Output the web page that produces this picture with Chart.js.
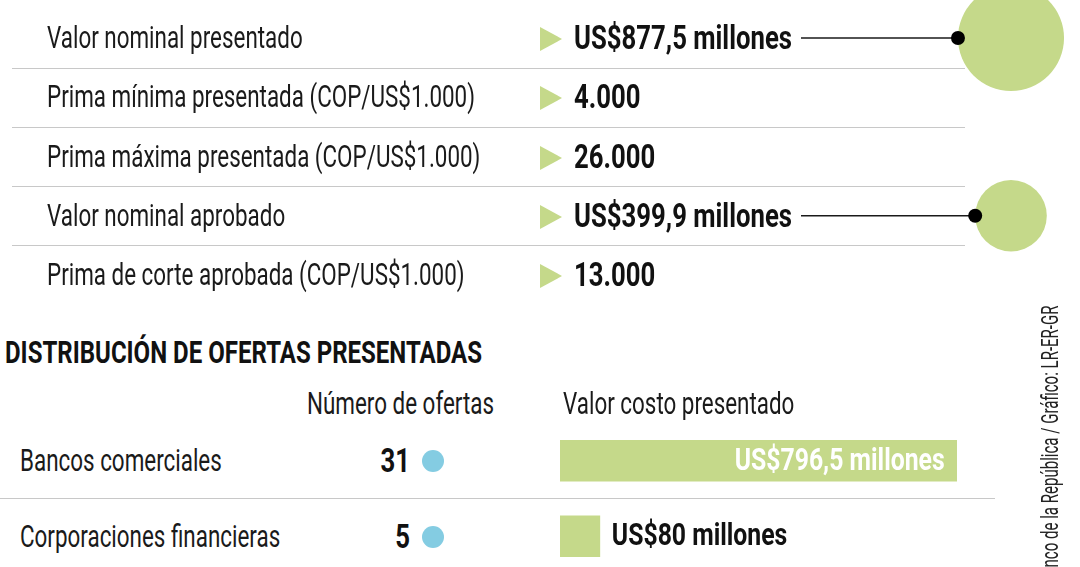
<!DOCTYPE html>
<html>
<head>
<meta charset="utf-8">
<script src="https://cdn.jsdelivr.net/npm/chart.js@4"></script>
<style>
  body { margin: 0; width: 1080px; height: 567px; overflow: hidden; background: #fff; position: relative;
         font-family: Roboto, "DejaVu Sans", sans-serif; color: #111; }
  .t { position: absolute; white-space: nowrap; line-height: 40px; transform-origin: left center; }
  .lbl { font-size: 31px; font-weight: 400; color: #1a1a1a; }
  .val { font-size: 33px; font-weight: bold; }
  .tit { font-size: 32px; font-weight: bold; }
  .tri { position: absolute; width: 0; height: 0; border-left: 22px solid #c5d98a;
         border-top: 12px solid transparent; border-bottom: 12px solid transparent; }
  .sep { position: absolute; height: 1px; background: #c8c8c8; }
  .dot { position: absolute; width: 22px; height: 22px; border-radius: 50%; background: #84cce2; }
  canvas { position: absolute; }
</style>
</head>
<body>
<canvas id="circulos" width="1080" height="304" style="left:0;top:0"></canvas>
<canvas id="barras" width="498" height="151" style="left:560px;top:423px"></canvas>
<script>
// filas de la tabla de arriba
const filas = ['Valor nominal presentado', 'Prima mínima presentada (COP/US$1.000)',
  'Prima máxima presentada (COP/US$1.000)', 'Valor nominal aprobado', 'Prima de corte aprobada (COP/US$1.000)'];
const valoresFila = [877.5, 4000, 26000, 399.9, 13000];
const esMillones = [true, false, false, true, false];

// circulos: solo las filas de valor nominal
const filasCirculo = [0, 3];

// distribucion de ofertas
const entidades = ['Bancos comerciales', 'Corporaciones financieras'];
const numOfertas = [31, 5];
const valorCosto = [796.5, 80]; // millones de US$

const verde = '#c5d98a';
const fuenteTxt = 'Fuente: Banco de la República / Gráfico: LR-ER-GR';

// formato tipo "877,5" y "26.000"
function fmt(v) {
  let partes = String(v).split('.');
  let ent = partes[0].replace(/\B(?=(\d{3})+(?!\d))/g, '.');
  return partes[1] ? ent + ',' + partes[1] : ent;
}
function texto(v, mill) {
  return mill ? 'US$' + fmt(v) + ' millones' : fmt(v);
}

// la letra original es condensada: se mide y se comprime en x
const mc = document.createElement('canvas').getContext('2d');
function ancho(font, txt) { mc.font = font; return mc.measureText(txt).width; }
const FAM = 'Roboto, "DejaVu Sans", sans-serif';
const sxLbl = 428 / ancho('400 31px ' + FAM, 'Prima mínima presentada (COP/US$1.000)');
const sxVal = 218 / ancho('bold 33px ' + FAM, 'US$877,5 millones');
const sxTit = 477 / ancho('bold 32px ' + FAM, 'DISTRIBUCIÓN DE OFERTAS PRESENTADAS');

function addDiv(cls, html, x, y, extra) {
  const d = document.createElement('div');
  d.className = cls;
  d.innerHTML = html;
  d.style.left = x + 'px';
  d.style.top = y + 'px';
  if (extra) Object.assign(d.style, extra);
  document.body.appendChild(d);
  return d;
}
function sx(d, s, origen) {
  d.style.transformOrigin = (origen || 'left') + ' center';
  d.style.transform = 'scaleX(' + s + ')';
  return d;
}

// tabla de arriba
const filaY0 = 38, filaH = 59.25;
let finTexto = [];
filas.forEach((f, i) => {
  const cy = filaY0 + filaH * i;
  sx(addDiv('t lbl', f, 47, cy - 20), sxLbl);
  addDiv('tri', '', 540, cy - 11);
  const v = sx(addDiv('t val', texto(valoresFila[i], esMillones[i]), 574, cy - 20), sxVal);
  finTexto[i] = v.getBoundingClientRect().right;
  if (i < filas.length - 1) addDiv('sep', '', 12, Math.round(cy + filaH / 2), { width: '953px' });
});

// seccion de abajo
sx(addDiv('t tit', 'DISTRIBUCIÓN DE OFERTAS PRESENTADAS', 5, 332), sxTit);
sx(addDiv('t lbl', 'Número de ofertas', 307, 384), sxLbl);
sx(addDiv('t lbl', 'Valor costo presentado', 563, 384), sxLbl);
entidades.forEach((e, i) => {
  const cy = 461 + 75.5 * i;
  sx(addDiv('t lbl', e, 20, cy - 20), sxLbl);
  sx(addDiv('t val', String(numOfertas[i]), 0, cy - 20, { width: '410px', textAlign: 'right' }), sxVal, 'right');
  addDiv('dot', '', 422, cy - 11);
});
addDiv('sep', '', 0, 498, { width: '995px' });

// fuente, girada de abajo hacia arriba
const fFont = '400 23px ' + FAM;
const fW = ancho(fFont, fuenteTxt);
const sxF = 262 / ancho(fFont, 'nco de la República / Gráfico: LR-ER-GR');
addDiv('t', fuenteTxt, 1039, 305 + fW * sxF,
  { font: fFont, lineHeight: '24px', transformOrigin: '0 0', transform: 'rotate(-90deg) scaleX(' + sxF + ')', color: '#222' });

// linea guia hasta el borde del circulo
const guias = {
  id: 'guias',
  afterDatasetsDraw(chart) {
    const ctx = chart.ctx;
    const meta = chart.getDatasetMeta(0);
    meta.data.forEach((el, i) => {
      const fila = filasCirculo[i];
      const xFin = el.x - el.options.radius;
      ctx.save();
      ctx.strokeStyle = '#1a1a1a';
      ctx.lineWidth = 1.6;
      ctx.beginPath();
      ctx.moveTo(finTexto[fila] + 9, el.y);
      ctx.lineTo(xFin, el.y);
      ctx.stroke();
      ctx.fillStyle = '#000';
      ctx.beginPath();
      ctx.arc(xFin, el.y, 7, 0, Math.PI * 2);
      ctx.fill();
      ctx.restore();
    });
  }
};

// radio proporcional al area
const k = 1.79;
new Chart(document.getElementById('circulos'), {
  type: 'bubble',
  data: {
    datasets: [{
      data: filasCirculo.map(f => ({ x: 0, y: f, r: k * Math.sqrt(valoresFila[f]) })),
      backgroundColor: verde,
      borderWidth: 0,
      clip: false
    }]
  },
  options: {
    responsive: false,
    animation: false,
    layout: { padding: 0, autoPadding: false },
    scales: {
      x: { type: 'linear', min: -1011, max: 69, display: false },
      y: { type: 'linear', min: -0.64, max: 4.49, reverse: true, display: false }
    },
    plugins: { legend: { display: false }, tooltip: { enabled: false } }
  },
  plugins: [guias]
});

// etiquetas de las barras
const sxBar = 210 / ancho('bold 32px ' + FAM, 'US$796,5 millones');
const etiquetas = {
  id: 'etiquetas',
  afterDatasetsDraw(chart) {
    const ctx = chart.ctx;
    const meta = chart.getDatasetMeta(0);
    meta.data.forEach((el, i) => {
      const txt = texto(valorCosto[i], true);
      ctx.save();
      ctx.font = 'bold 32px ' + FAM;
      ctx.textBaseline = 'middle';
      const w = ctx.measureText(txt).width * sxBar;
      const dentro = el.x - el.base > w + 24;
      ctx.translate(dentro ? el.x - 12 : el.x + 12, el.y + 1);
      ctx.scale(sxBar, 1);
      ctx.fillStyle = dentro ? '#fff' : '#111';
      ctx.textAlign = dentro ? 'right' : 'left';
      ctx.fillText(txt, 0, 0);
      ctx.restore();
    });
  }
};

new Chart(document.getElementById('barras'), {
  type: 'bar',
  data: {
    labels: entidades,
    datasets: [{ data: valorCosto, backgroundColor: verde, barThickness: 41 }]
  },
  options: {
    indexAxis: 'y',
    responsive: false,
    animation: false,
    layout: { padding: 0 },
    scales: {
      x: { min: 0, max: 1000, display: false },
      y: { display: false }
    },
    plugins: { legend: { display: false }, tooltip: { enabled: false } }
  },
  plugins: [etiquetas]
});
</script>
</body>
</html>
